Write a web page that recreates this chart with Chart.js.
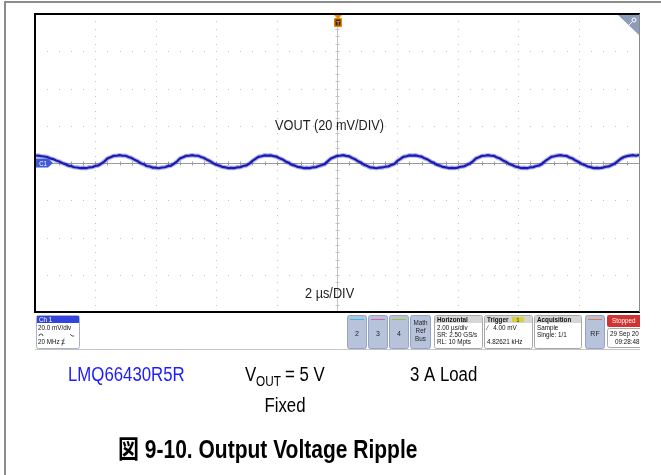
<!DOCTYPE html>
<html>
<head>
<meta charset="utf-8">
<script src="https://cdn.jsdelivr.net/npm/chart.js@4.4.0/dist/chart.umd.min.js"></script>
<style>
  body { margin: 0; background: #fff; width: 661px; height: 475px; overflow: hidden; position: relative; }
  #frame { position: absolute; left: 4px; top: 1px; width: 700px; height: 500px; border-left: 2px solid #8c8c8c; border-top: 2px solid #8c8c8c; }
  #scope { position: absolute; left: 0; top: 0; }
</style>
</head>
<body>
<div id="frame"></div>
<canvas id="scope" width="661" height="475"></canvas>
<script>
// sample step of the capture, microseconds
var sampleStep = 0.1;
var timeStart = -10;

// VOUT ripple in mV, one sample every 0.1 us from -10 us to +10 us
var voutRipple = [
  3.9, 4.0, 3.7, 3.5, 3.2, 2.5, 2.1, 1.3, 0.8, 0.0, -0.6, -1.4, -1.7, -2.3, -2.4, -2.7,
  -2.6, -2.8, -2.3, -2.2, -1.6, -1.3, -0.3, 0.9, 2.4, 3.1, 3.8, 3.9,
  4.2, 3.9, 3.9, 3.2, 2.7, 1.7, 1.0, -0.1, -0.7, -1.6, -1.9, -2.5, -2.5,
  -2.8, -2.4, -2.3, -1.7, -1.4, -0.4, 0.8, 2.4, 3.1, 3.8, 3.9,
  4.2, 3.9, 3.9, 3.2, 2.7, 1.7, 1.0, -0.1, -0.9, -1.4, -2.1, -2.3, -2.7,
  -2.6, -2.7, -2.3, -2.2, -1.6, -1.3, -0.3, 1.1, 2.2, 3.3, 3.6, 4.1,
  4.0, 4.1, 3.7, 3.4, 2.5, 1.9, 0.8, 0.1, -0.9, -1.4, -2.1, -2.3, -2.7,
  -2.6, -2.7, -2.3, -2.2, -1.6, -1.1, -0.5, 1.0, 2.4, 3.1, 3.8, 3.9,
  4.2, 3.8, 3.6, 2.7, 2.0, 0.9, 0.1, -1.0, -1.6, -2.4, -2.5,
  -2.8, -2.5, -2.4, -2.0, -1.8, -1.1, -0.5, 1.1, 2.2, 3.3, 3.6, 4.1,
  4.0, 4.1, 3.7, 3.4, 2.5, 1.9, 0.8, 0.1, -0.9, -1.4, -2.1, -2.3, -2.7,
  -2.6, -2.7, -2.5, -2.0, -1.8, -1.1, -0.3, 0.9, 2.4, 3.1, 3.8, 3.9,
  4.2, 3.9, 3.8, 3.0, 2.4, 1.3, 0.6, -0.5, -1.1, -1.9, -2.2, -2.7,
  -2.6, -2.8, -2.3, -2.2, -1.6, -1.3, -0.3, 1.1, 2.2, 3.3, 3.6, 4.0,
  4.2, 3.9, 3.8, 3.0, 2.4, 1.3, 0.6, -0.5, -1.1, -1.9, -2.2, -2.7,
  -2.6, -2.7, -2.5, -2.0, -1.8, -1.1, -0.3, 1.0, 2.3, 3.2, 3.7, 4.0,
  4.2, 3.9, 4.3
];

// screen: 10 horizontal divisions of 2 us, 8 vertical divisions of 20 mV
var timeDivs = [-10, -8, -6, -4, -2, 0, 2, 4, 6, 8, 10];
var voltDivs = [-80, -60, -40, -20, 0, 20, 40, 60, 80];

var tracePoints = voutRipple.map(function (v, i) {
  return { x: timeStart + i * sampleStep, y: v };
});

var FONT = '"Liberation Sans", Arial, "Noto Sans CJK JP", sans-serif';

function txt(ctx, s, x, y, size, color, opts) {
  opts = opts || {};
  ctx.save();
  ctx.translate(x, y);
  ctx.scale(opts.sx || 1, 1);
  ctx.font = (opts.bold ? 'bold ' : '') + size + 'px ' + FONT;
  ctx.fillStyle = color;
  ctx.textAlign = opts.align || 'left';
  ctx.textBaseline = 'alphabetic';
  ctx.fillText(s, 0, 0);
  ctx.restore();
}

function rrect(ctx, x, y, w, h, r, fill, stroke) {
  ctx.beginPath();
  ctx.roundRect(x, y, w, h, r);
  if (fill) { ctx.fillStyle = fill; ctx.fill(); }
  if (stroke) { ctx.strokeStyle = stroke; ctx.lineWidth = 1; ctx.stroke(); }
}

var graticule = {
  id: 'graticule',
  beforeDatasetsDraw: function (chart) {
    var ctx = chart.ctx, xs = chart.scales.x, ys = chart.scales.y;
    var a = chart.chartArea;
    ctx.save();
    ctx.fillStyle = '#c2c2c2';
    // dotted division lines, five dots per division
    voltDivs.forEach(function (v, j) {
      if (j === 0 || j === voltDivs.length - 1 || v === 0) return;
      var py = Math.round(ys.getPixelForValue(v));
      for (var t = -10; t <= 10.001; t += 0.4) {
        ctx.fillRect(Math.round(xs.getPixelForValue(t)), py, 1, 1);
      }
    });
    timeDivs.forEach(function (t, i) {
      if (i === 0 || i === timeDivs.length - 1 || t === 0) return;
      var px = Math.round(xs.getPixelForValue(t));
      for (var v = -80; v <= 80.001; v += 4) {
        ctx.fillRect(px, Math.round(ys.getPixelForValue(v)), 1, 1);
      }
    });
    // centre cross with minor ticks
    var cx = Math.round(xs.getPixelForValue(0)) + 0.5;
    var cy = Math.round(ys.getPixelForValue(0)) + 0.5;
    ctx.lineWidth = 1;
    ctx.strokeStyle = '#c4c4c4';
    ctx.beginPath();
    ctx.moveTo(cx, a.top); ctx.lineTo(cx, a.bottom);
    for (var v2 = -80; v2 <= 80.001; v2 += 4) {
      var ty = Math.round(ys.getPixelForValue(v2)) + 0.5;
      ctx.moveTo(cx - 2, ty); ctx.lineTo(cx + 2, ty);
    }
    ctx.stroke();
    ctx.strokeStyle = '#9a9a9a';
    ctx.beginPath();
    ctx.moveTo(a.left, cy); ctx.lineTo(a.right, cy);
    for (var t2 = -10; t2 <= 10.001; t2 += 0.4) {
      var tx = Math.round(xs.getPixelForValue(t2)) + 0.5;
      ctx.moveTo(tx, cy - 2); ctx.lineTo(tx, cy + 2);
    }
    ctx.stroke();
    ctx.restore();
  },
  afterDatasetsDraw: function (chart) {
    var ctx = chart.ctx, xs = chart.scales.x, ys = chart.scales.y;
    var a = chart.chartArea;
    ctx.save();
    // frame of the screen
    ctx.strokeStyle = '#000';
    ctx.lineWidth = 2;
    ctx.beginPath();
    ctx.moveTo(a.right + 1, a.top); ctx.lineTo(a.left, a.top);
    ctx.lineTo(a.left, a.bottom); ctx.lineTo(a.right + 1, a.bottom);
    ctx.stroke();
    ctx.strokeStyle = '#8a8a8a';
    ctx.lineWidth = 1;
    ctx.beginPath();
    ctx.moveTo(a.right + 0.5, a.top); ctx.lineTo(a.right + 0.5, a.bottom);
    ctx.stroke();

    // zoom corner
    ctx.fillStyle = '#8d9cb8';
    ctx.beginPath();
    ctx.moveTo(a.right - 21, a.top + 1); ctx.lineTo(a.right, a.top + 1); ctx.lineTo(a.right, a.top + 21);
    ctx.closePath(); ctx.fill();
    ctx.strokeStyle = '#fff';
    ctx.lineWidth = 1;
    ctx.beginPath();
    ctx.arc(a.right - 5, a.top + 6, 2, 0, Math.PI * 2);
    ctx.moveTo(a.right - 6.5, a.top + 7.5); ctx.lineTo(a.right - 10, a.top + 11);
    ctx.stroke();

    // trigger position marker
    var tx = Math.round(xs.getPixelForValue(0)) + 1;
    ctx.fillStyle = '#f08a00';
    ctx.beginPath();
    ctx.moveTo(tx - 4, a.top + 1); ctx.lineTo(tx + 4, a.top + 1); ctx.lineTo(tx, a.top + 5);
    ctx.closePath(); ctx.fill();
    rrect(ctx, tx - 4, a.top + 4, 8, 9, 1, '#e58200', null);
    ctx.fillStyle = '#3a2200';
    ctx.fillRect(tx - 2.5, a.top + 5.5, 5, 6);
    txt(ctx, 'T', tx, a.top + 11, 6, '#f0a030', { bold: true, align: 'center' });

    // channel 1 ground marker
    var gy = ys.getPixelForValue(0);
    ctx.fillStyle = '#3f5bd6';
    ctx.beginPath();
    ctx.moveTo(a.left + 1, gy - 4.5); ctx.lineTo(a.left + 13, gy - 4.5);
    ctx.lineTo(a.left + 18, gy); ctx.lineTo(a.left + 13, gy + 4.5);
    ctx.lineTo(a.left + 1, gy + 4.5); ctx.closePath(); ctx.fill();
    txt(ctx, 'C1', a.left + 8, gy + 2.5, 7, '#fff', { align: 'center', sx: 0.85 });

    // annotations on the screen
    txt(ctx, 'VOUT (20 mV/DIV)', 275, 130, 15, '#1e1e1e', { sx: 0.85 });
    txt(ctx, '2 \u00b5s/DIV', 305, 298, 15, '#1e1e1e', { sx: 0.85 });

    // status bar
    var sy = a.bottom + 3, sh = 33, f = 7;
    rrect(ctx, 36.5, sy + 0.5, 43, sh, 2, '#fff', '#a9b0c8');
    ctx.fillStyle = '#3344dd';
    ctx.fillRect(37, sy + 1, 42, 7);
    txt(ctx, 'Ch 1', 39, sy + 7, f, '#fff', { sx: 0.9 });
    txt(ctx, '20.0 mV/div', 38, sy + 15, f, '#111', { sx: 0.9 });
    ctx.strokeStyle = '#222'; ctx.lineWidth = 0.8;
    ctx.beginPath();
    ctx.arc(41, sy + 21, 2, Math.PI, 0);
    ctx.moveTo(70, sy + 19); ctx.lineTo(72, sy + 21); ctx.lineTo(74, sy + 21);
    ctx.stroke();
    txt(ctx, '20 MHz \u2a0b', 38, sy + 29, f, '#111', { sx: 0.9 });

    var chBoxes = [
      { x: 347, label: '2', line: '#29c4dc' },
      { x: 368, label: '3', line: '#e0609c' },
      { x: 389, label: '4', line: '#a8c030' }
    ];
    chBoxes.forEach(function (b) {
      rrect(ctx, b.x + 0.5, sy + 0.5, 19, sh, 2, '#b6c3da', '#95a4c2');
      ctx.fillStyle = b.line;
      ctx.fillRect(b.x + 3, sy + 4, 14, 1);
      txt(ctx, b.label, b.x + 10, sy + 21, f, '#222', { align: 'center' });
    });
    rrect(ctx, 410.5, sy + 0.5, 20, sh, 2, '#b6c3da', '#95a4c2');
    txt(ctx, 'Math', 420.5, sy + 10, f, '#222', { align: 'center', sx: 0.9 });
    txt(ctx, 'Ref', 420.5, sy + 18, f, '#222', { align: 'center', sx: 0.9 });
    txt(ctx, 'Bus', 420.5, sy + 26, f, '#222', { align: 'center', sx: 0.9 });

    var infoBoxes = [
      { x: 434, w: 48, head: 'Horizontal', rows: ['2.00 \u00b5s/div', 'SR: 2.50 GS/s', 'RL: 10 Mpts'] },
      { x: 484, w: 48, head: 'Trigger', rows: ['\u2215   4.00 mV', '', '4.82621 kHz'] },
      { x: 534, w: 47, head: 'Acquisition', rows: ['Sample', 'Single: 1/1', ''] }
    ];
    infoBoxes.forEach(function (b) {
      rrect(ctx, b.x + 0.5, sy + 0.5, b.w, sh, 2, '#fff', '#a8a8a8');
      ctx.fillStyle = '#d6d6d6';
      ctx.fillRect(b.x + 1, sy + 1, b.w - 1, 7);
      txt(ctx, b.head, b.x + 3, sy + 7, f, '#111', { bold: true, sx: 0.9 });
      b.rows.forEach(function (r, k) {
        txt(ctx, r, b.x + 3, sy + 15 + k * 7, f, '#111', { sx: 0.9 });
      });
    });
    ctx.fillStyle = '#d8d23a';
    ctx.fillRect(512, sy + 2, 12, 5);
    txt(ctx, '1', 518, sy + 7, 6, '#333', { align: 'center' });

    rrect(ctx, 585.5, sy + 0.5, 19, sh, 2, '#b6c3da', '#95a4c2');
    ctx.fillStyle = '#f07a30';
    ctx.fillRect(588, sy + 4, 14, 1);
    txt(ctx, 'RF', 595, sy + 21, f, '#222', { align: 'center' });

    // run state, cut by the edge of the screen grab
    ctx.save();
    ctx.beginPath();
    ctx.rect(600, sy - 2, a.right + 1 - 600, sh + 6);
    ctx.clip();
    rrect(ctx, 607, sy, 40, 12, 2, '#d13232', null);
    txt(ctx, 'Stopped', 612, sy + 8, f, '#fff', { sx: 0.9 });
    rrect(ctx, 607.5, sy + 13.5, 40, 19, 2, '#fff', '#a8a8a8');
    txt(ctx, '29 Sep 20', 610, sy + 21, f, '#111', { sx: 0.9 });
    txt(ctx, '09:28:48', 615, sy + 29, f, '#111', { sx: 0.9 });
    ctx.restore();

    ctx.strokeStyle = '#c4c4c4';
    ctx.lineWidth = 1;
    ctx.beginPath();
    ctx.moveTo(a.left, a.bottom + 37.5); ctx.lineTo(a.right + 1, a.bottom + 37.5);
    ctx.stroke();

    // figure captions
    var sx = 0.84;
    txt(ctx, 'LMQ66430R5R', 68, 381, 20, '#1c1cff', { sx: sx });
    txt(ctx, 'V', 245, 381, 20, '#000', { sx: sx });
    txt(ctx, 'OUT', 256, 386, 14, '#000', { sx: sx });
    txt(ctx, '= 5 V', 285, 381, 20, '#000', { sx: sx });
    txt(ctx, 'Fixed', 285, 412, 20, '#000', { sx: sx, align: 'center' });
    txt(ctx, '3 A Load', 410, 381, 20, '#000', { sx: sx });
    txt(ctx, '\u56f3 9-10. Output Voltage Ripple', 118, 458, 25, '#000', { sx: sx, bold: true });
    ctx.restore();
  }
};

new Chart(document.getElementById('scope'), {
  type: 'line',
  data: {
    datasets: [{
      // sample spread of the acquisition around the trace
      label: 'VOUT spread',
      data: tracePoints,
      borderColor: 'rgba(40, 40, 210, 0.35)',
      borderWidth: 4.5,
      pointRadius: 0,
      tension: 0
    }, {
      label: 'VOUT',
      data: tracePoints,
      borderColor: '#14149e',
      borderWidth: 2.2,
      pointRadius: 0,
      tension: 0
    }]
  },
  options: {
    responsive: false,
    animation: false,
    layout: { padding: { left: 35, top: 14, right: 22, bottom: 163 } },
    plugins: { legend: { display: false }, tooltip: { enabled: false } },
    scales: {
      x: { type: 'linear', min: -10, max: 10, display: false },
      y: { min: -80, max: 80, display: false }
    }
  },
  plugins: [graticule]
});
</script>
</body>
</html>
